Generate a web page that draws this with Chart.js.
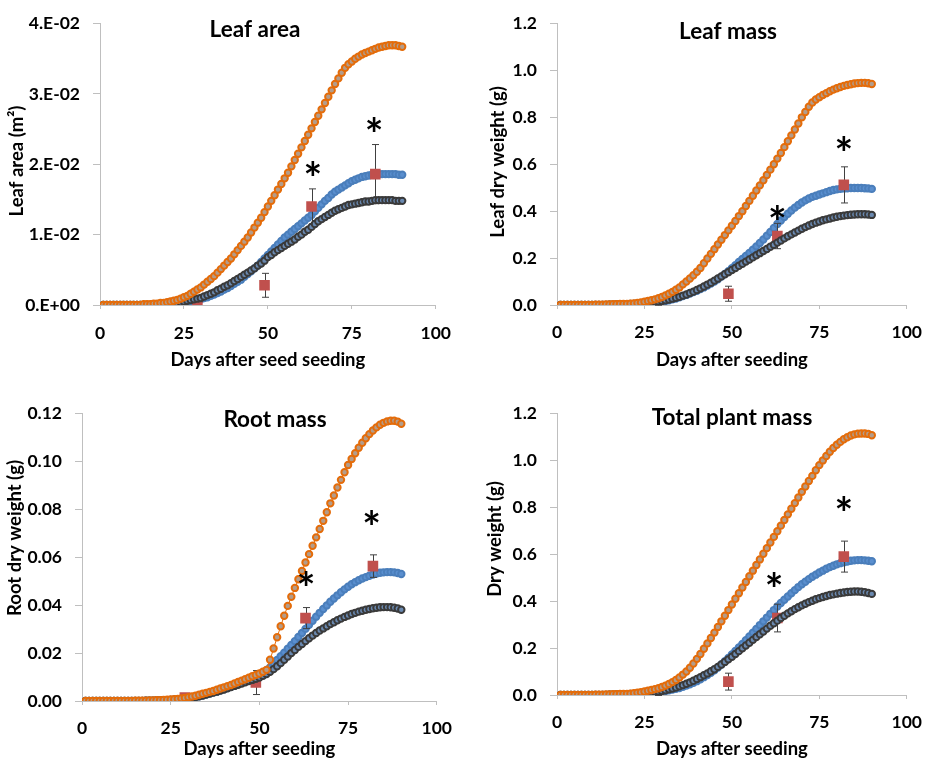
<!DOCTYPE html>
<html>
<head>
<meta charset="utf-8">
<title>Growth curves</title>
<script src="https://cdn.jsdelivr.net/npm/chart.js@4.4.1/dist/chart.umd.min.js"></script>
<style>
  html, body { margin: 0; padding: 0; background: #fff; }
  body { position: relative; width: 935px; height: 763px; overflow: hidden; }
  canvas { position: absolute; }
</style>
</head>
<body>
<canvas id="leafAreaChart" width="465" height="385" style="left:0;top:0"></canvas>
<canvas id="leafMassChart" width="465" height="385" style="left:470px;top:0"></canvas>
<canvas id="rootMassChart" width="465" height="373" style="left:0;top:390px"></canvas>
<canvas id="totalMassChart" width="465" height="373" style="left:470px;top:390px"></canvas>
<script>
// days after seeding, one model value per day
const days = [1,2,3,4,5,6,7,8,9,10,11,12,13,14,15,16,17,18,19,20,21,22,23,24,25,26,27,28,29,30,
  31,32,33,34,35,36,37,38,39,40,41,42,43,44,45,46,47,48,49,50,51,52,53,54,55,56,57,58,59,60,
  61,62,63,64,65,66,67,68,69,70,71,72,73,74,75,76,77,78,79,80,81,82,83,84,85,86,87,88,89,90];

// sampling days of the measured plants
const obsDays = [29, 49, 63, 82];

// ---- leaf area (m2)
const areaOrange = [0,0,0,0,0,0,0,0,0,0,0,0,0.0001,0.0001,0.0001,0.0002,0.0002,0.0003,0.0003,0.0004,
  0.0005,0.0006,0.0007,0.0009,0.0011,0.0013,0.0016,0.0019,0.0022,0.0025,
  0.0029,0.0033,0.0037,0.0041,0.0046,0.0051,0.0056,0.0061,0.0066,0.0072,
  0.0078,0.0084,0.0090,0.0096,0.0103,0.0110,0.0117,0.0124,0.0132,0.0140,
  0.0148,0.0156,0.0164,0.0172,0.0180,0.0188,0.0197,0.0206,0.0215,0.0224,
  0.0233,0.0242,0.0251,0.0260,0.0269,0.0278,0.0287,0.0296,0.0305,0.0314,
  0.0322,0.0330,0.0337,0.0342,0.0346,0.0350,0.0353,0.0356,0.0358,0.0360,
  0.0362,0.0364,0.0366,0.0367,0.0368,0.0369,0.0369,0.0369,0.0368,0.0367];
const areaBlue = [0,0,0,0,0,0,0,0,0,0,0,0,0,0,0,0,0.0001,0.0001,0.0001,0.0001,
  0.0002,0.0002,0.0002,0.0003,0.0003,0.0004,0.0005,0.0006,0.0007,0.0008,
  0.0010,0.0011,0.0013,0.0015,0.0017,0.0019,0.0022,0.0024,0.0027,0.0030,
  0.0033,0.0036,0.0040,0.0044,0.0048,0.0052,0.0056,0.0061,0.0066,0.0071,
  0.0076,0.0081,0.0086,0.0091,0.0096,0.0100,0.0104,0.0108,0.0112,0.0116,
  0.0120,0.0124,0.0128,0.0133,0.0138,0.0143,0.0148,0.0152,0.0157,0.0161,
  0.0164,0.0167,0.0170,0.0173,0.0176,0.0178,0.0180,0.0182,0.0183,0.0184,
  0.0185,0.0185,0.0186,0.0186,0.0186,0.0186,0.0186,0.0186,0.0185,0.0185];
const areaGrey = [0,0,0,0,0,0,0,0,0,0,0,0,0,0,0,0.0001,0.0001,0.0001,0.0001,0.0002,
  0.0002,0.0003,0.0003,0.0004,0.0005,0.0006,0.0007,0.0008,0.0009,0.0010,
  0.0012,0.0014,0.0016,0.0018,0.0021,0.0023,0.0026,0.0028,0.0031,0.0034,
  0.0037,0.0040,0.0043,0.0046,0.0049,0.0052,0.0056,0.0059,0.0063,0.0068,
  0.0071,0.0075,0.0078,0.0081,0.0084,0.0087,0.0090,0.0093,0.0097,0.0100,
  0.0104,0.0107,0.0111,0.0115,0.0119,0.0122,0.0125,0.0128,0.0131,0.0134,
  0.0136,0.0138,0.0140,0.0142,0.0143,0.0144,0.0145,0.0146,0.0147,0.0147,
  0.0148,0.0149,0.0149,0.0149,0.0149,0.0149,0.0149,0.0148,0.0148,0.0148];
const areaObs = [0.0003, 0.0028, 0.0140, 0.0186];
const areaErr = [0.0001, 0.0017, 0.0025, 0.0042];
const areaStarDays = [63.4, 81.6];
const areaStarY = [0.0194, 0.0256];
const areaTicks = ['0.E+00', '1.E-02', '2.E-02', '3.E-02', '4.E-02'];

// ---- leaf dry weight (g)
const leafOrange = [0,0,0,0,0,0,0,0,0,0,0.001,0.001,0.001,0.002,0.002,0.003,0.003,0.004,0.004,0.005,
  0.006,0.007,0.009,0.011,0.014,0.017,0.020,0.024,0.029,0.034,
  0.041,0.048,0.056,0.065,0.075,0.088,0.100,0.113,0.127,0.142,
  0.158,0.178,0.198,0.218,0.238,0.258,0.278,0.298,0.318,0.338,
  0.358,0.379,0.400,0.422,0.444,0.466,0.488,0.510,0.532,0.554,
  0.577,0.600,0.624,0.648,0.673,0.698,0.723,0.748,0.774,0.800,
  0.823,0.845,0.863,0.876,0.886,0.895,0.903,0.911,0.918,0.924,
  0.929,0.934,0.938,0.941,0.944,0.946,0.947,0.947,0.945,0.942];
const leafBlue = [0,0,0,0,0,0,0,0,0,0,0,0,0,0,0.001,0.001,0.001,0.002,0.002,0.003,
  0.003,0.004,0.005,0.006,0.007,0.008,0.009,0.011,0.012,0.014,
  0.017,0.020,0.024,0.028,0.033,0.038,0.043,0.049,0.055,0.061,
  0.068,0.075,0.083,0.091,0.100,0.110,0.121,0.132,0.144,0.157,
  0.170,0.183,0.196,0.209,0.222,0.236,0.250,0.264,0.279,0.295,
  0.311,0.328,0.345,0.360,0.375,0.389,0.403,0.415,0.426,0.437,
  0.446,0.454,0.461,0.466,0.471,0.476,0.481,0.486,0.490,0.493,
  0.495,0.497,0.498,0.499,0.499,0.499,0.499,0.498,0.497,0.495];
const leafGrey = [0,0,0,0,0,0,0,0,0,0,0,0,0,0,0.001,0.001,0.002,0.002,0.003,0.003,
  0.004,0.005,0.006,0.007,0.008,0.009,0.011,0.013,0.015,0.017,
  0.020,0.023,0.027,0.031,0.035,0.040,0.045,0.051,0.057,0.064,
  0.071,0.079,0.087,0.095,0.104,0.113,0.122,0.131,0.140,0.149,
  0.158,0.167,0.176,0.185,0.194,0.203,0.212,0.221,0.230,0.239,
  0.248,0.257,0.266,0.275,0.284,0.293,0.301,0.309,0.317,0.325,
  0.332,0.339,0.345,0.351,0.356,0.361,0.365,0.369,0.373,0.376,
  0.379,0.381,0.383,0.385,0.386,0.387,0.387,0.387,0.386,0.384];
const leafObs = [0.003, 0.048, 0.294, 0.512];
const leafErr = [0.004, 0.032, 0.054, 0.077];
const leafStarDays = [63, 82];
const leafStarY = [0.396, 0.690];
const massTicks = ['0.0', '0.2', '0.4', '0.6', '0.8', '1.0', '1.2'];

// ---- root dry weight (g)
const rootOrange = [0,0,0,0,0,0,0,0,0,0,0,0,0,0,0.0001,0.0001,0.0001,0.0001,0.0002,0.0002,
  0.0003,0.0003,0.0004,0.0005,0.0006,0.0007,0.0009,0.0011,0.0013,0.0016,
  0.0019,0.0022,0.0026,0.0030,0.0034,0.0038,0.0042,0.0047,0.0052,0.0057,
  0.0062,0.0067,0.0073,0.0079,0.0085,0.0091,0.0097,0.0103,0.0109,0.0115,
  0.0122,0.0130,0.0172,0.0219,0.0266,0.0312,0.0356,0.0397,0.0435,0.0472,
  0.0508,0.0543,0.0578,0.0613,0.0648,0.0683,0.0718,0.0752,0.0788,0.0825,
  0.0858,0.0891,0.0923,0.0955,0.0985,0.1010,0.1034,0.1057,0.1078,0.1097,
  0.1114,0.1129,0.1142,0.1153,0.1161,0.1167,0.1170,0.1170,0.1166,0.1157];
const rootBlue = [0,0,0,0,0,0,0,0,0,0,0,0,0,0,0,0,0,0.0001,0.0001,0.0001,
  0.0002,0.0002,0.0003,0.0003,0.0004,0.0005,0.0006,0.0008,0.0010,0.0012,
  0.0014,0.0017,0.0020,0.0023,0.0027,0.0031,0.0035,0.0039,0.0044,0.0049,
  0.0054,0.0059,0.0065,0.0071,0.0077,0.0083,0.0089,0.0095,0.0101,0.0107,
  0.0116,0.0127,0.0140,0.0155,0.0171,0.0187,0.0202,0.0218,0.0234,0.0250,
  0.0267,0.0284,0.0301,0.0318,0.0335,0.0352,0.0368,0.0384,0.0399,0.0414,
  0.0428,0.0441,0.0454,0.0466,0.0477,0.0487,0.0496,0.0504,0.0511,0.0517,
  0.0523,0.0528,0.0532,0.0535,0.0537,0.0538,0.0538,0.0537,0.0534,0.0530];
const rootGrey = [0,0,0,0,0,0,0,0,0,0,0,0,0,0,0,0,0,0.0001,0.0001,0.0001,
  0.0002,0.0002,0.0003,0.0003,0.0004,0.0005,0.0006,0.0008,0.0010,0.0012,
  0.0014,0.0017,0.0020,0.0023,0.0027,0.0031,0.0035,0.0039,0.0044,0.0048,
  0.0053,0.0058,0.0063,0.0068,0.0073,0.0078,0.0083,0.0088,0.0093,0.0098,
  0.0105,0.0113,0.0122,0.0133,0.0145,0.0158,0.0172,0.0186,0.0200,0.0213,
  0.0226,0.0238,0.0250,0.0262,0.0273,0.0284,0.0294,0.0303,0.0312,0.0321,
  0.0329,0.0337,0.0344,0.0351,0.0357,0.0363,0.0368,0.0373,0.0377,0.0381,
  0.0384,0.0387,0.0389,0.0391,0.0392,0.0392,0.0391,0.0389,0.0386,0.0381];
const rootObs = [0.0014, 0.0077, 0.0346, 0.0563];
const rootErr = [0.0004, 0.0050, 0.0044, 0.0047];
const rootStarDays = [63.2, 81.6];
const rootStarY = [0.0511, 0.0765];
const rootTicks = ['0.00', '0.02', '0.04', '0.06', '0.08', '0.10', '0.12'];

// ---- total plant dry weight (g)
const totalOrange = [0,0,0,0,0,0,0,0,0,0,0.001,0.001,0.001,0.002,0.002,0.003,0.003,0.004,0.004,0.005,
  0.006,0.008,0.010,0.012,0.015,0.018,0.021,0.025,0.029,0.034,
  0.040,0.047,0.055,0.064,0.075,0.087,0.100,0.116,0.134,0.154,
  0.175,0.197,0.220,0.243,0.266,0.290,0.314,0.338,0.362,0.386,
  0.410,0.434,0.458,0.482,0.506,0.530,0.554,0.578,0.602,0.626,
  0.650,0.674,0.698,0.722,0.746,0.770,0.794,0.818,0.842,0.866,
  0.889,0.912,0.934,0.958,0.980,1.000,1.019,1.037,1.053,1.067,
  1.079,1.090,1.099,1.106,1.111,1.114,1.115,1.115,1.113,1.107];
const totalBlue = [0,0,0,0,0,0,0,0,0,0,0,0,0,0,0.001,0.001,0.001,0.002,0.002,0.003,
  0.003,0.004,0.005,0.006,0.007,0.008,0.009,0.011,0.012,0.014,
  0.017,0.020,0.023,0.026,0.030,0.035,0.040,0.046,0.052,0.059,
  0.067,0.076,0.085,0.095,0.105,0.117,0.130,0.144,0.158,0.173,
  0.188,0.203,0.218,0.234,0.250,0.266,0.282,0.298,0.314,0.330,
  0.346,0.362,0.377,0.392,0.406,0.420,0.434,0.447,0.460,0.472,
  0.483,0.494,0.504,0.513,0.522,0.530,0.538,0.545,0.551,0.557,
  0.562,0.566,0.569,0.572,0.574,0.575,0.575,0.574,0.572,0.570];
const totalGrey = [0,0,0,0,0,0,0,0,0,0,0,0,0,0,0.001,0.001,0.002,0.002,0.003,0.003,
  0.004,0.005,0.006,0.007,0.008,0.009,0.011,0.013,0.015,0.017,
  0.020,0.024,0.028,0.032,0.037,0.042,0.048,0.054,0.061,0.068,
  0.076,0.084,0.092,0.101,0.110,0.120,0.130,0.141,0.152,0.163,
  0.175,0.187,0.199,0.211,0.223,0.235,0.247,0.259,0.271,0.283,
  0.295,0.306,0.317,0.328,0.338,0.348,0.357,0.366,0.374,0.382,
  0.389,0.396,0.402,0.408,0.413,0.418,0.422,0.426,0.429,0.432,
  0.435,0.437,0.439,0.440,0.441,0.441,0.440,0.438,0.435,0.431];
const totalObs = [0.002, 0.057, 0.328, 0.590];
const totalErr = [0.004, 0.036, 0.059, 0.066];
const totalStarDays = [62.1, 82];
const totalStarY = [0.492, 0.816];

const FONT = 'Lato, Carlito, Calibri, "Open Sans", sans-serif';
Chart.defaults.font.family = FONT;
Chart.defaults.color = '#000';

function curve(values, edge, core) {
  return {
    data: days.map((d, i) => ({ x: d, y: values[i] })),
    borderColor: edge,
    borderWidth: 1,
    pointStyle: 'circle',
    pointRadius: 3.2,
    pointBorderWidth: 2,
    pointBorderColor: edge,
    pointBackgroundColor: core
  };
}

function makeChart(p) {
  // error bars under the squares, titles and stars on top
  const decor = {
    id: 'decor',
    beforeDatasetDraw(chart, args) {
      if (args.index !== 2) return;
      const {x, y} = chart.scales;
      const ctx = chart.ctx;
      ctx.save();
      ctx.strokeStyle = '#404040';
      ctx.lineWidth = 1;
      p.obs.forEach((m, i) => {
        const px = Math.round(x.getPixelForValue(obsDays[i])) + 0.5;
        const hi = y.getPixelForValue(m + p.err[i]);
        const lo = y.getPixelForValue(m - p.err[i]);
        ctx.beginPath();
        ctx.moveTo(px, hi); ctx.lineTo(px, lo);
        ctx.moveTo(px - 3.5, hi); ctx.lineTo(px + 3.5, hi);
        ctx.moveTo(px - 3.5, lo); ctx.lineTo(px + 3.5, lo);
        ctx.stroke();
      });
      ctx.restore();
    },
    afterDraw(chart) {
      const {x, y} = chart.scales;
      const ctx = chart.ctx;
      ctx.save();
      ctx.fillStyle = '#000';
      ctx.textAlign = 'center';
      ctx.textBaseline = 'alphabetic';
      ctx.font = 'bold 22.5px ' + FONT;
      ctx.fillText(p.title, p.titlePos[0], p.titlePos[1]);

      ctx.save();
      ctx.translate(p.yTitlePos[0], p.yTitlePos[1]);
      ctx.rotate(-Math.PI / 2);
      ctx.font = 'bold 18.5px ' + FONT;
      ctx.textBaseline = 'middle';
      ctx.fillText(p.yTitle, 0, 0);
      ctx.restore();

      ctx.font = 'bold 44px ' + FONT;
      const m = ctx.measureText('*');
      const shift = (m.actualBoundingBoxAscent - m.actualBoundingBoxDescent) / 2;
      p.starDays.forEach((d, i) => {
        ctx.fillText('*', x.getPixelForValue(d), y.getPixelForValue(p.starY[i]) + shift);
      });
      ctx.restore();
    }
  };

  const tickFont = { family: FONT, size: 17.5, weight: 'bold' };

  return new Chart(document.getElementById(p.id), {
    type: 'line',
    data: {
      datasets: [
        curve(p.series[0], '#e46c0a', '#b39c8a'),
        curve(p.series[1], '#3a3a3a', '#6a89b0'),
        {
          data: obsDays.map((d, i) => ({ x: d, y: p.obs[i] })),
          showLine: false,
          pointStyle: 'rect',
          pointRadius: 7.5,
          pointBorderWidth: 0,
          pointBackgroundColor: '#c0504d',
          pointBorderColor: '#c0504d'
        },
        curve(p.series[2], '#4a7ebb', '#5a8fcf')
      ]
    },
    options: {
      responsive: false,
      animation: false,
      events: [],
      layout: { padding: { top: p.pad[0], right: p.pad[1], bottom: 0, left: 0 } },
      plugins: { legend: { display: false }, tooltip: { enabled: false } },
      scales: {
        x: {
          type: 'linear',
          min: 0,
          max: 100,
          ticks: { stepSize: 25, font: tickFont, padding: p.xTickPad, maxRotation: 0 },
          grid: { drawOnChartArea: false, tickLength: 4, color: '#bfbfbf' },
          border: { color: '#bfbfbf' },
          title: {
            display: true,
            text: p.xTitle,
            font: { family: FONT, size: 18.5, weight: 'bold' },
            padding: { top: p.xTitlePad, bottom: p.xTitlePad }
          },
          afterFit: s => { s.height = p.xHeight; }
        },
        y: {
          type: 'linear',
          min: 0,
          max: p.yMax,
          ticks: {
            stepSize: p.yStep,
            font: tickFont,
            padding: 13,
            callback: (v, i) => p.yLabels[i] || ''
          },
          grid: { drawOnChartArea: false, tickLength: 7, color: '#bfbfbf' },
          border: { color: '#bfbfbf' },
          afterFit: s => { s.width = p.yWidth; }
        }
      }
    },
    plugins: [decor]
  });
}

makeChart({
  id: 'leafAreaChart', title: 'Leaf area', titlePos: [255, 37],
  yTitle: 'Leaf area (m²)', yTitlePos: [17, 161], xTitle: 'Days after seed seeding',
  yMax: 0.04, yStep: 0.01, yLabels: areaTicks,
  series: [areaOrange, areaGrey, areaBlue], obs: areaObs, err: areaErr,
  starDays: areaStarDays, starY: areaStarY,
  pad: [12, 27], yWidth: 100, xHeight: 80, xTickPad: 14, xTitlePad: 14
});
makeChart({
  id: 'leafMassChart', title: 'Leaf mass', titlePos: [258, 39],
  yTitle: 'Leaf dry weight (g)', yTitlePos: [28, 162], xTitle: 'Days after seeding',
  yMax: 1.2, yStep: 0.2, yLabels: massTicks,
  series: [leafOrange, leafGrey, leafBlue], obs: leafObs, err: leafErr,
  starDays: leafStarDays, starY: leafStarY,
  pad: [12, 19], yWidth: 87, xHeight: 80, xTickPad: 13, xTitlePad: 14
});
makeChart({
  id: 'rootMassChart', title: 'Root mass', titlePos: [275, 37],
  yTitle: 'Root dry weight (g)', yTitlePos: [15, 148], xTitle: 'Days after seeding',
  yMax: 0.12, yStep: 0.02, yLabels: rootTicks,
  series: [rootOrange, rootGrey, rootBlue], obs: rootObs, err: rootErr,
  starDays: rootStarDays, starY: rootStarY,
  pad: [16, 23], yWidth: 82, xHeight: 62, xTickPad: 13, xTitlePad: 2.5
});
makeChart({
  id: 'totalMassChart', title: 'Total plant mass', titlePos: [262, 35],
  yTitle: 'Dry weight (g)', yTitlePos: [25, 149], xTitle: 'Days after seeding',
  yMax: 1.2, yStep: 0.2, yLabels: massTicks,
  series: [totalOrange, totalGrey, totalBlue], obs: totalObs, err: totalErr,
  starDays: totalStarDays, starY: totalStarY,
  pad: [12, 19], yWidth: 87, xHeight: 68, xTickPad: 13, xTitlePad: 2.5
});
</script>
</body>
</html>
